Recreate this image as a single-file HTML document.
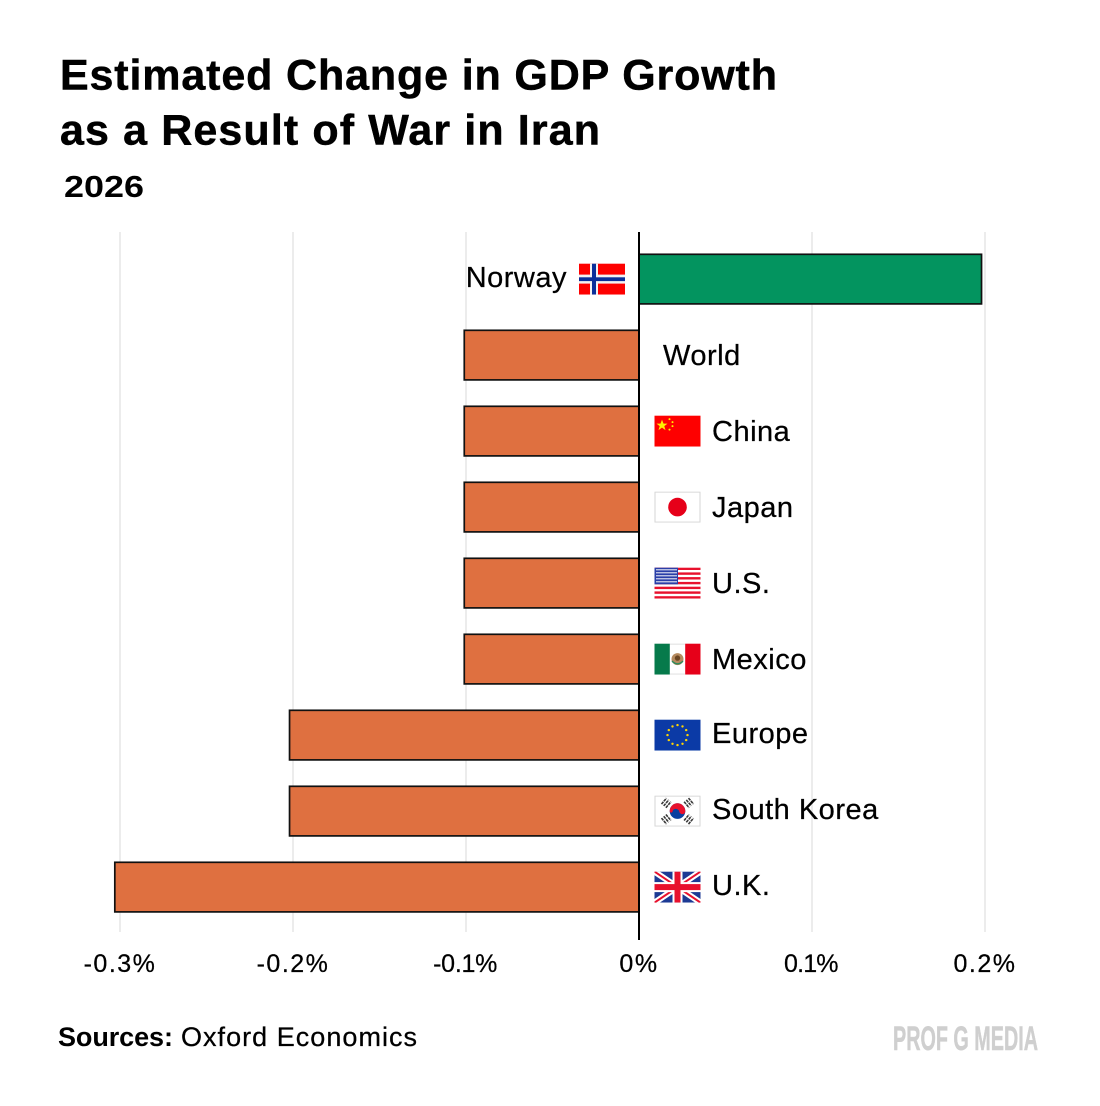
<!DOCTYPE html>
<html lang="en">
<head>
<meta charset="utf-8">
<title>Estimated Change in GDP Growth as a Result of War in Iran</title>
<style>
html,body{margin:0;padding:0;background:#fff;}
body{width:1100px;height:1106px;overflow:hidden;}
svg{display:block;font-family:"Liberation Sans",sans-serif;}
</style>
</head>
<body>
<svg id="chart" width="1100" height="1106" viewBox="0 0 1100 1106" xmlns="http://www.w3.org/2000/svg">
  <defs>
    <symbol id="flag-norway" viewBox="0 0 46 31">
      <rect width="46" height="31" fill="#fe0000"/>
      <rect x="11" width="8" height="31" fill="#f2f2f2"/><rect y="11" width="46" height="9" fill="#f2f2f2"/>
      <rect x="13" width="4" height="31" fill="#0b2f9a"/><rect y="13.7" width="46" height="3.8" fill="#0b2f9a"/>
    </symbol>
    <symbol id="flag-china" viewBox="0 0 46 31">
      <rect width="46" height="31" fill="#fe0000"/>
      <polygon fill="#ffef00" points="7.5,4 9,8 13,8 9.8,10.5 11,14.5 7.5,12 4,14.5 5.2,10.5 2,8 6,8"/>
      <circle cx="15" cy="3.5" r="1" fill="#ffef00"/><circle cx="18" cy="6.5" r="1" fill="#ffef00"/>
      <circle cx="18" cy="10.5" r="1" fill="#ffef00"/><circle cx="15" cy="14" r="1" fill="#ffef00"/>
    </symbol>
    <symbol id="flag-japan" viewBox="0 0 46 31">
      <rect x=".5" y=".5" width="45" height="30" fill="#fff" stroke="#d6d6d6"/>
      <circle cx="23" cy="15.5" r="9.3" fill="#e60019"/>
    </symbol>
    <symbol id="flag-u-s" viewBox="0 0 46 31">
      <rect width="46" height="31" fill="#fff"/>
      <g fill="#e8112d">
        <rect y="0" width="46" height="2.4"/><rect y="4.8" width="46" height="2.4"/><rect y="9.5" width="46" height="2.4"/>
        <rect y="14.3" width="46" height="2.4"/><rect y="19.1" width="46" height="2.4"/><rect y="23.8" width="46" height="2.4"/>
        <rect y="28.6" width="46" height="2.4"/>
      </g>
      <rect width="23.5" height="16.7" fill="#2a3fa8"/>
      <g fill="#fff" opacity=".75">
        <rect x="1.5" y="1.5" width="21" height="1.3"/><rect x="1.5" y="4.5" width="21" height="1.3"/>
        <rect x="1.5" y="7.5" width="21" height="1.3"/><rect x="1.5" y="10.5" width="21" height="1.3"/>
        <rect x="1.5" y="13.5" width="21" height="1.3"/>
      </g>
    </symbol>
    <symbol id="flag-mexico" viewBox="0 0 46 31">
      <rect width="46" height="31" fill="#fff"/>
      <rect x="15.3" width="15.4" height="1" fill="#ddd"/><rect x="15.3" y="30" width="15.4" height="1" fill="#ddd"/>
      <rect width="15.3" height="31" fill="#067a4b"/><rect x="30.7" width="15.3" height="31" fill="#e60019"/>
      <circle cx="23" cy="15.5" r="6" fill="#b58a5e"/><circle cx="23" cy="14.5" r="2.7" fill="#6a4522"/>
      <path d="M17.5 17.5q5.5 5.5 11 0" fill="none" stroke="#2d8a5c" stroke-width="1.4"/>
    </symbol>
    <symbol id="flag-europe" viewBox="0 0 46 31">
      <rect width="46" height="31" fill="#0b3aa6"/>
      <g fill="#ffd400">
        <circle cx="23" cy="5.5" r="1.2"/><circle cx="28" cy="6.8" r="1.2"/><circle cx="31.7" cy="10.5" r="1.2"/>
        <circle cx="33" cy="15.5" r="1.2"/><circle cx="31.7" cy="20.5" r="1.2"/><circle cx="28" cy="24.2" r="1.2"/>
        <circle cx="23" cy="25.5" r="1.2"/><circle cx="18" cy="24.2" r="1.2"/><circle cx="14.3" cy="20.5" r="1.2"/>
        <circle cx="13" cy="15.5" r="1.2"/><circle cx="14.3" cy="10.5" r="1.2"/><circle cx="18" cy="6.8" r="1.2"/>
      </g>
    </symbol>
    <symbol id="flag-south-korea" viewBox="0 0 46 31">
      <rect x=".5" y=".5" width="45" height="30" fill="#fff" stroke="#d6d6d6"/>
      <circle cx="23" cy="15.5" r="7.8" fill="#0a3fa0"/>
      <path d="M15.2 15.5a7.8 7.8 0 0 1 15.6 0c0 4-5.4 4-6.2 0-.8-3-6-3-6.4 0-.2 2-3 2-3 0z" fill="#e8112d"/>
      <g stroke="#3a3a3a" stroke-width="1.6" fill="none">
        <path d="M7 8.5l5-6M9.2 10.3l5-6M11.4 12.1l5-6" stroke-dasharray="3 .7"/>
        <path d="M29.6 6.1l5 6M31.8 4.3l5 6M34 2.5l5 6" stroke-dasharray="3 .7"/>
        <path d="M7 22.5l5 6M9.2 20.7l5 6M11.4 18.9l5 6" stroke-dasharray="3 .7"/>
        <path d="M29.6 24.9l5-6M31.8 26.7l5-6M34 28.5l5-6" stroke-dasharray="3 .7"/>
      </g>
    </symbol>
    <symbol id="flag-u-k" viewBox="0 0 46 31">
      <rect width="46" height="31" fill="#1c3a94"/>
      <path d="M0 0L46 31M46 0L0 31" stroke="#fff" stroke-width="6"/>
      <path d="M0 0L46 31M46 0L0 31" stroke="#e8112d" stroke-width="2"/>
      <rect x="18" width="10" height="31" fill="#fff"/><rect y="10.5" width="46" height="10" fill="#fff"/>
      <rect x="20" width="6" height="31" fill="#e8112d"/><rect y="12.5" width="46" height="6" fill="#e8112d"/>
    </symbol>
  </defs>

  <rect width="1100" height="1106" fill="#fff"/>

  <text x="60" y="89.5" font-size="43" font-weight="700" fill="#000" stroke="#000" stroke-width="0.5" textLength="717" lengthAdjust="spacing">Estimated Change in GDP Growth</text>
  <text x="60" y="144.5" font-size="43" font-weight="700" fill="#000" stroke="#000" stroke-width="0.5" textLength="540" lengthAdjust="spacing">as a Result of War in Iran</text>
  <text x="64" y="197" font-size="31" font-weight="700" fill="#000" textLength="80" lengthAdjust="spacingAndGlyphs">2026</text>

  <g id="grid-layer"></g>
  <g id="bar-layer"></g>
  <g id="axis-layer"></g>
  <g id="label-layer"></g>

  <text x="58" y="1046" font-size="27" font-weight="700" fill="#000" textLength="115" lengthAdjust="spacing">Sources:</text>
  <text x="181" y="1046" font-size="27" fill="#000" stroke="#000" stroke-width="0.25" textLength="236" lengthAdjust="spacing">Oxford Economics</text>
  <text x="893" y="1050" font-size="34" font-weight="700" fill="#cfcfcf" stroke="#cfcfcf" stroke-width="0.5" textLength="145" lengthAdjust="spacingAndGlyphs">PROF G MEDIA</text>
</svg>

<script>
const categories = ["Norway", "World", "China", "Japan", "U.S.", "Mexico", "Europe", "South Korea", "U.K."];
const values = [0.198, -0.101, -0.101, -0.101, -0.101, -0.101, -0.202, -0.202, -0.303];
const tickValues = [-0.3, -0.2, -0.1, 0, 0.1, 0.2];
const tickLabels = ["-0.3%", "-0.2%", "-0.1%", "0%", "0.1%", "0.2%"];

const SVG_NS = "http://www.w3.org/2000/svg";
const X_ZERO = 639;
const PX_PER_UNIT = 1730;
const ROW_TOP = 254.3;
const ROW_STEP = 76;
const BAR_HEIGHT = 49.6;
const FLAG_W = 46;
const FLAG_H = 31;

function xScale(v) { return X_ZERO + v * PX_PER_UNIT; }
function yScale(i) { return ROW_TOP + i * ROW_STEP; }
function slug(s) { return s.toLowerCase().replace(/[^a-z]+/g, "-").replace(/^-|-$/g, ""); }
function make(tag, attrs, parent, text) {
  const el = document.createElementNS(SVG_NS, tag);
  for (const k in attrs) { el.setAttribute(k, attrs[k]); }
  if (text !== undefined) { el.textContent = text; }
  parent.appendChild(el);
  return el;
}

const gridLayer = document.getElementById("grid-layer");
const barLayer = document.getElementById("bar-layer");
const axisLayer = document.getElementById("axis-layer");
const labelLayer = document.getElementById("label-layer");

tickValues.forEach(function (t, i) {
  if (t !== 0) {
    const line = make("line", { x1: xScale(t), x2: xScale(t), y1: 232, y2: 932, stroke: "#ececec", "stroke-width": 2 }, gridLayer);
    
    
  }
  const tick = make("text", { x: xScale(t), y: 972, "font-size": 25, "text-anchor": "middle", "letter-spacing": 1.5, fill: "#000", stroke: "#000", "stroke-width": 0.25 }, axisLayer, tickLabels[i]);
  
  
  if (tickLabels[i].indexOf("1") >= 0) {
    tick.setAttribute("textLength", tick.getComputedTextLength() - 7);
    tick.setAttribute("lengthAdjust", "spacing");
  }
});

categories.forEach(function (name, i) {
  const v = values[i];
  const x0 = Math.min(xScale(0), xScale(v));
  const x1 = Math.max(xScale(0), xScale(v));
  const y = yScale(i);
  const cy = y + BAR_HEIGHT / 2;

  const bar = make("rect", { x: x0, y: y, width: x1 - x0, height: BAR_HEIGHT, fill: v > 0 ? "#03945f" : "#df7040", stroke: "#111", "stroke-width": 1.7 }, barLayer);
  
  

  const positive = v > 0;
  const baselineOffset = (i === 0 || i >= 6) ? 8 : 10;
  const textX = positive ? X_ZERO - 72 : (name === "World" ? X_ZERO + 24 : X_ZERO + 73);
  const label = make("text", { x: textX, y: cy + baselineOffset, "font-size": 29, "letter-spacing": 0.5, "text-anchor": positive ? "end" : "start", fill: "#000", stroke: "#000", "stroke-width": 0.25 }, labelLayer, name);
  
  

  if (name !== "World") {
    const flagX = positive ? X_ZERO - 60 : X_ZERO + 15.5;
    const flag = make("use", { href: "#flag-" + slug(name), x: flagX, y: cy - FLAG_H / 2, width: FLAG_W, height: FLAG_H }, labelLayer);
    
    
  }
});

const zeroLine = make("line", { x1: X_ZERO, x2: X_ZERO, y1: 232, y2: 940, stroke: "#000", "stroke-width": 2 }, axisLayer);


</script>
</body>
</html>
